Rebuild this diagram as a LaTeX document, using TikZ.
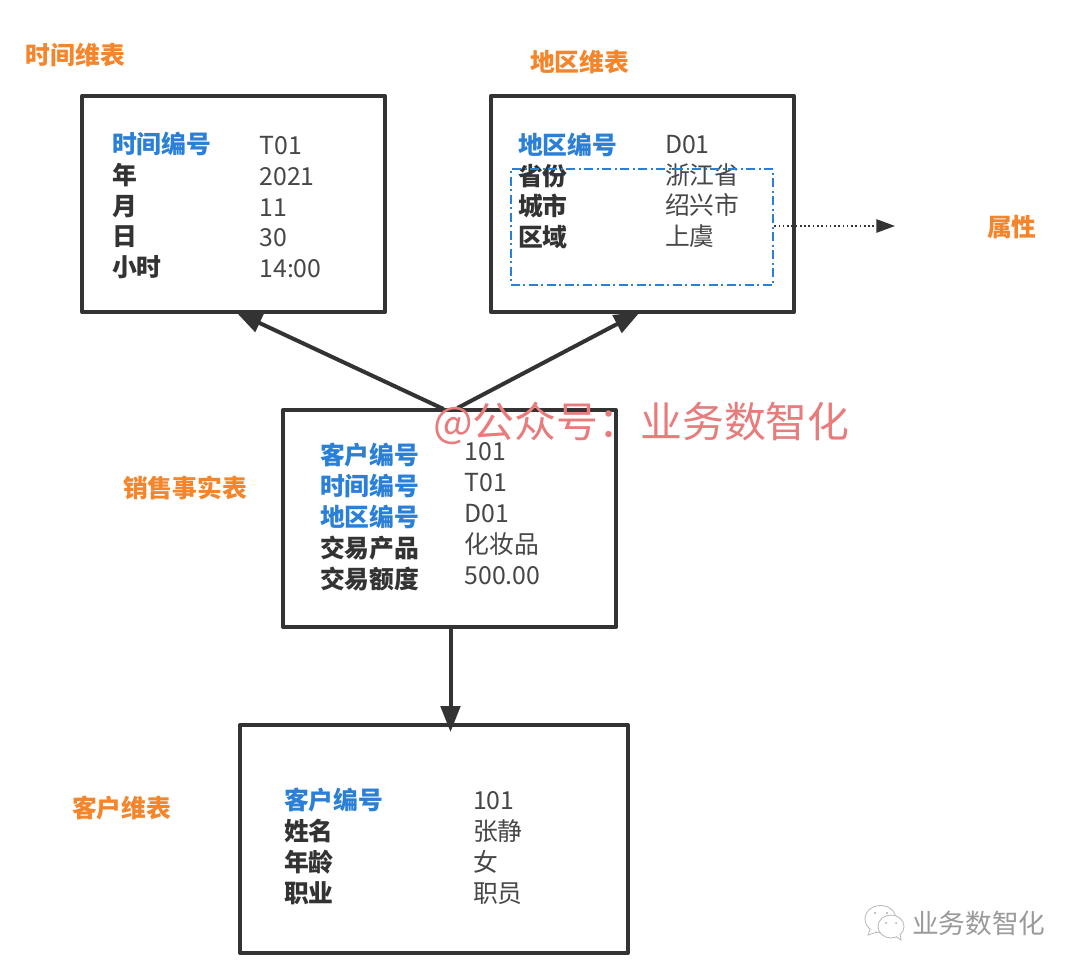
\documentclass[tikz,border=0pt]{standalone}
\usepackage{fontspec}
\setmainfont{Noto Sans CJK SC}
\usetikzlibrary{arrows.meta,calc}
\definecolor{ink}{HTML}{333333}
\definecolor{keyblue}{HTML}{2A7FD6}
\definecolor{titleorange}{HTML}{F5852A}
\definecolor{mark}{HTML}{E87C7C}
\definecolor{wmgray}{HTML}{9A9A9A}
\newcommand{\fs}[1]{\fontsize{#1}{#1}\selectfont}
\tikzset{
 x=0.75pt,y=-0.75pt,
 tablebox/.style={draw=ink,line width=3pt,line join=round,fill=white,inner sep=0pt},
 txt/.style={anchor=west,inner sep=0pt,outer sep=0pt,text height=13.5pt,text depth=3.5pt,font=\fs{18.6}},
 keyf/.style={txt,text=keyblue,font=\fs{18.6}\bfseries},
 attr/.style={txt,text=ink,font=\fs{18.6}\bfseries},
 val/.style={txt,text=ink!90},
 title/.style={txt,text=titleorange,font=\fs{18.6}\bfseries},
 link/.style={draw=ink,line width=3pt,-{Triangle[length=19.5pt,width=14.5pt]}},
 bubble/.style={draw=wmgray!70,line width=0.6pt,fill=white}
}
\begin{document}
\begin{tikzpicture}
\useasboundingbox (0,0) rectangle (1080,970);
\fill[white] (0,0) rectangle (1080,970);

% titles
\node[title] (t1) at (26,58) {时间维表};
\node[title] (t2) at (530,65) {地区维表};
\node[title] (t3) at (123,491) {销售事实表};
\node[title] (t4) at (72,811) {客户维表};
\node[title] (t5) at (987,230) {属性};

% boxes
\node[tablebox,minimum width=227.25pt,minimum height=162pt] (timebox) at (233.5,204) {};
\node[tablebox,minimum width=227.25pt,minimum height=162pt] (regionbox) at (642.5,204) {};
\node[tablebox,minimum width=249.75pt,minimum height=162.75pt] (factbox) at (449.5,518.5) {};
\node[tablebox,minimum width=291pt,minimum height=171pt] (custbox) at (434,839) {};

% arrows
\coordinate (timeS) at ($(timebox.south)+(2.5,-2)$);
\coordinate (regionS) at ($(regionbox.south)+(-2.5,-2)$);
\coordinate (factL) at ($(factbox.north)+(-6,1)$);
\coordinate (factR) at ($(factbox.north)+(8,0)$);
\coordinate (factB) at ($(factbox.south)+(1,0)$);
\coordinate (custT) at (factB |- {$(custbox.north)+(0,9)$});
\draw[link] (factL) -- (timeS);
\draw[link] (factR) -- (regionS);
\draw[link] (factB) -- (custT);

% time table
\node[keyf] (a1) at (112,147) {时间编号};
\node[attr] (a2) at (112,178) {年};
\node[attr] (a3) at (112,209) {月};
\node[attr] (a4) at (112,239) {日};
\node[attr] (a5) at (112,270) {小时};
\node[val] (b1) at (259.5,148) {T01};
\node[val] (b2) at (259.5,179) {2021};
\node[val] (b3) at (259.5,210) {11};
\node[val] (b4) at (259.5,240) {30};
\node[val] (b5) at (259.5,271) {14:00};

% region table
\node[keyf] (c1) at (518,148) {地区编号};
\node[attr] (c2) at (518,179) {省份};
\node[attr] (c3) at (518,209) {城市};
\node[attr] (c4) at (518,240) {区域};
\node[val] (d1) at (665,147) {D01};
\node[val] (d2) at (665,178) {浙江省};
\node[val] (d3) at (665,208) {绍兴市};
\node[val] (d4) at (665,239) {上虞};

% dashed attribute frame
\node[draw=keyblue,line width=1.5pt,dash pattern=on 7pt off 2.5pt on 1.5pt off 2.5pt,minimum width=197pt,minimum height=86.5pt,inner sep=0pt] (frame) at (642,227) {};
\coordinate (attrEnd) at (895,226);
\draw[draw=ink,line width=1.2pt,dotted,-{Triangle[length=14pt,width=10pt]}] (frame.east |- attrEnd) -- (attrEnd);

% fact table
\node[keyf] (e1) at (320,458) {客户编号};
\node[keyf] (e2) at (320,489) {时间编号};
\node[keyf] (e3) at (320,520) {地区编号};
\node[attr] (e4) at (320,551) {交易产品};
\node[attr] (e5) at (320,582) {交易额度};
\node[val] (f1) at (464.5,454) {101};
\node[val] (f2) at (464.5,485) {T01};
\node[val] (f3) at (464.5,516) {D01};
\node[val] (f4) at (464.5,547) {化妆品};
\node[val] (f5) at (464.5,578) {500.00};

% customer table
\node[keyf] (g1) at (284,803) {客户编号};
\node[attr] (g2) at (284,834) {姓名};
\node[attr] (g3) at (284,865) {年龄};
\node[attr] (g4) at (284,896) {职业};
\node[val] (h1) at (473,803) {101};
\node[val] (h2) at (473,834) {张静};
\node[val] (h3) at (473,865) {女};
\node[val] (h4) at (473,896) {职员};

% watermarks
\node[anchor=west,inner sep=0pt,text=mark,font=\fs{31.4}] (wm) at (433,423) {@公众号：业务数智化};
\node[anchor=west,inner sep=0pt,text=wmgray,font=\fs{20}] (wm2) at (912,923) {业务数智化};

% WeChat icon
\draw[bubble] (880.5,919) ellipse [x radius=15.5,y radius=13.5];
\draw[bubble] (870,929) -- (868,935) -- (877,932);
\draw[bubble] (891,926.5) ellipse [x radius=13,y radius=11.5];
\draw[bubble] (896,936.5) -- (901,940) -- (900,934);
\fill[wmgray!80] (875,913) circle (1.2) (887,913) circle (1.2) (886,923) circle (1) (896,923) circle (1);
\end{tikzpicture}
\end{document}
